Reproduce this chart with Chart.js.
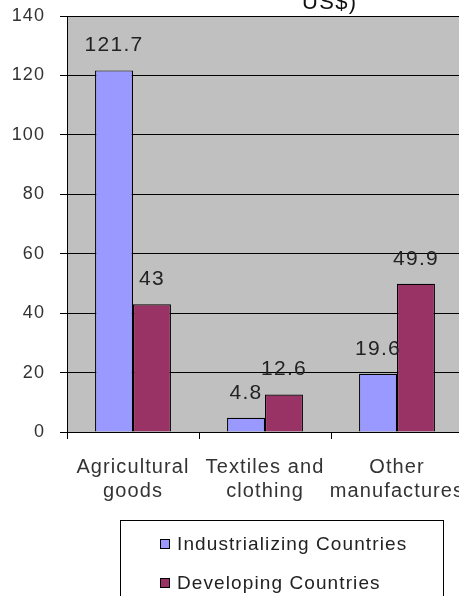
<!DOCTYPE html>
<html>
<head>
<meta charset="utf-8">
<script src="https://cdn.jsdelivr.net/npm/chart.js@4/dist/chart.umd.min.js"></script>
<style>
  html, body { margin: 0; padding: 0; background: #ffffff; overflow: hidden; }
  #wrap { width: 459px; height: 596px; overflow: hidden; position: relative; }
  #box { width: 466px; height: 596px; position: absolute; left: 0; top: 0; }
</style>
</head>
<body>
<div id="wrap"><div id="box"><canvas id="c"></canvas></div></div>
<script>
const categories = [["Agricultural", "goods"], ["Textiles and", "clothing"], ["Other", "manufactures"]];
const seriesNames = ["Industrializing Countries", "Developing Countries"];
const industrializing = [121.7, 4.8, 19.6];
const developing = [43, 12.6, 49.9];
const yTicks = [0, 20, 40, 60, 80, 100, 120, 140];
const titleTail = "US$)";

const FONT = "'Liberation Sans', Arial, sans-serif";
const colors = ["#9999ff", "#993366"];

const bgPlugin = {
  id: 'bg',
  beforeDraw(chart) {
    const { ctx, chartArea: a } = chart;
    ctx.save();
    ctx.fillStyle = '#c0c0c0';
    ctx.fillRect(a.left, a.top, a.right - a.left, a.bottom - a.top);
    ctx.strokeStyle = '#808080';
    ctx.lineWidth = 1;
    ctx.beginPath();
    ctx.moveTo(a.left, a.top + 0.5);
    ctx.lineTo(a.right, a.top + 0.5);
    ctx.stroke();
    ctx.restore();
    // slightly wider letter spacing for axis text (persists into the scale drawing)
    if ('letterSpacing' in ctx) ctx.letterSpacing = '1.1px';
  }
};

const labelPlugin = {
  id: 'vals',
  afterDatasetsDraw(chart) {
    const { ctx } = chart;
    ctx.save();
    if ('letterSpacing' in ctx) ctx.letterSpacing = '1.3px';
    ctx.font = "21px " + FONT;
    ctx.fillStyle = '#222222';
    ctx.textAlign = 'center';
    ctx.textBaseline = 'middle';
    chart.data.datasets.forEach((ds, di) => {
      const meta = chart.getDatasetMeta(di);
      meta.data.forEach((el, i) => {
        ctx.fillText(String(ds.data[i]), el.x, el.y - 25);
      });
    });
    ctx.restore();
  }
};

const extrasPlugin = {
  id: 'extras',
  afterDraw(chart) {
    const { ctx } = chart;
    ctx.save();
    if ('letterSpacing' in ctx) ctx.letterSpacing = '1.3px';
    ctx.font = "22px " + FONT;
    ctx.fillStyle = '#111111';
    ctx.textAlign = 'left';
    ctx.textBaseline = 'alphabetic';
    ctx.fillText(titleTail, 302, 9);
    // legend box
    ctx.fillStyle = '#ffffff';
    ctx.fillRect(120.5, 520.5, 323, 90);
    ctx.strokeStyle = '#000000';
    ctx.lineWidth = 1;
    ctx.strokeRect(120.5, 520.5, 323, 90);
    if ('letterSpacing' in ctx) ctx.letterSpacing = '1.1px';
    ctx.font = "19px " + FONT;
    ctx.textBaseline = 'middle';
    chart.data.datasets.forEach((ds, i) => {
      const y = 544 + i * 39;
      ctx.fillStyle = ds.backgroundColor;
      ctx.fillRect(160.5, y - 4.5, 9, 9);
      ctx.strokeStyle = '#000000';
      ctx.strokeRect(160.5, y - 4.5, 9, 9);
      ctx.fillStyle = '#222222';
      ctx.fillText(ds.label, 177, y + 1);
    });
    ctx.restore();
  }
};

new Chart(document.getElementById('c'), {
  type: 'bar',
  data: {
    labels: categories,
    datasets: [
      { label: seriesNames[0], data: industrializing, backgroundColor: colors[0], borderColor: '#000000', borderWidth: 1.2 },
      { label: seriesNames[1], data: developing, backgroundColor: colors[1], borderColor: '#000000', borderWidth: 1.2 }
    ]
  },
  options: {
    responsive: true,
    maintainAspectRatio: false,
    animation: false,
    events: [],
    layout: { padding: { top: 16, right: 3, left: 0, bottom: 0 } },
    datasets: { bar: { categoryPercentage: 0.575, barPercentage: 1.0 } },
    plugins: { legend: { display: false }, tooltip: { enabled: false }, title: { display: false } },
    scales: {
      x: {
        afterFit(scale) { scale.height = 164; scale.paddingLeft = 0; scale.paddingRight = 0; },
        grid: { display: true, drawOnChartArea: false, offset: true, color: '#000000', tickLength: 7, tickColor: '#000000' },
        border: { display: true, color: '#000000', width: 1 },
        ticks: { color: '#333333', font: { family: FONT, size: 20, lineHeight: 1.2 }, padding: 16, maxRotation: 0, autoSkip: false }
      },
      y: {
        min: 0, max: 140,
        afterFit(scale) { scale.width = 67; scale.paddingTop = 0; scale.paddingBottom = 0; },
        afterBuildTicks(scale) { scale.ticks = yTicks.map(v => ({ value: v })); },
        grid: { display: true, color: '#000000', tickLength: 7, tickColor: '#000000' },
        border: { display: true, color: '#000000', width: 1 },
        ticks: { color: '#333333', font: { family: FONT, size: 18 }, padding: 15 }
      }
    }
  },
  plugins: [bgPlugin, labelPlugin, extrasPlugin]
});
</script>
</body>
</html>
